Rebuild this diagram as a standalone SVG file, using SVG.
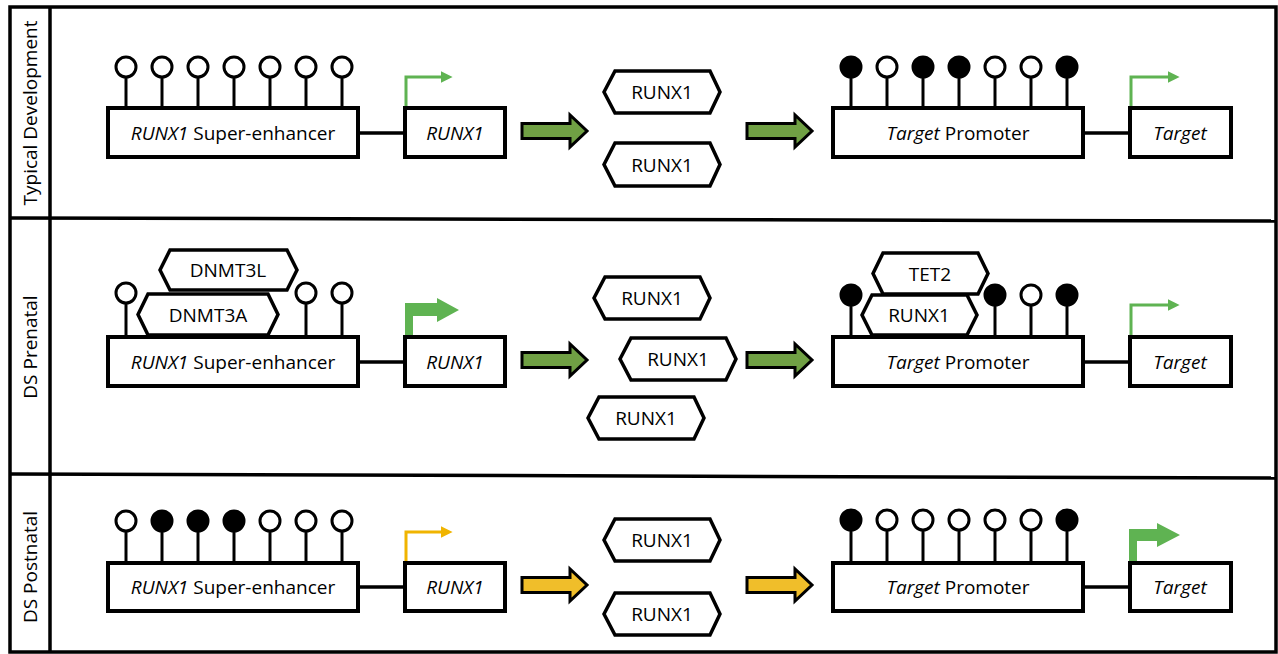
<svg xmlns="http://www.w3.org/2000/svg" width="1278" height="654" viewBox="0 0 1278 654">
<defs>
<style>
.frame{fill:none;stroke:#000;stroke-width:3.5}
.box{fill:#fff;stroke:#000;stroke-width:4}
.hex{fill:#fff;stroke:#000;stroke-width:3.5;stroke-linejoin:miter}
.link{stroke:#000;stroke-width:3.5}
.stem{stroke:#000;stroke-width:3}
.open{fill:#fff;stroke:#000;stroke-width:3}
.meth{fill:#000;stroke:#000;stroke-width:3}
.t{font-family:"Open Sans","Liberation Sans",sans-serif;font-size:19px;fill:#000;text-anchor:middle}
.i{font-style:italic}
.gblk{fill:#70a044;stroke:#000;stroke-width:3;stroke-linejoin:miter}
.yblk{fill:#f0be2a;stroke:#000;stroke-width:3;stroke-linejoin:miter}
.gthin{fill:none;stroke:#5fb352;stroke-width:3}
.ythin{fill:none;stroke:#f0b400;stroke-width:3}
</style>
<marker id="gh" viewBox="0 0 10 10" refX="2" refY="5" markerWidth="4" markerHeight="4" orient="auto" markerUnits="strokeWidth"><path d="M0,0 L10,5 L0,10 Z" fill="#5fb352"/></marker>
<marker id="yh" viewBox="0 0 10 10" refX="2" refY="5" markerWidth="4" markerHeight="4" orient="auto" markerUnits="strokeWidth"><path d="M0,0 L10,5 L0,10 Z" fill="#f0b400"/></marker>
</defs>
<rect width="1278" height="654" fill="#fff"/>

<g id="frame">
<rect class="frame" x="10" y="7" width="1266" height="645"/>
<line class="frame" x1="50" y1="7" x2="50" y2="652"/>
<line class="frame" x1="10" y1="218" x2="1276" y2="221"/>
<line class="frame" x1="10" y1="474" x2="1276" y2="478"/>
</g>

<g id="row-labels">
<text class="t" transform="translate(37,113) rotate(-90)">Typical Development</text>
<text class="t" transform="translate(37,347) rotate(-90)">DS Prenatal</text>
<text class="t" transform="translate(37,567) rotate(-90)">DS Postnatal</text>
</g>

<g id="connectors">
<line class="link" x1="358" y1="133" x2="405" y2="133"/>
<line class="link" x1="1083" y1="133" x2="1130" y2="133"/>
<line class="link" x1="358" y1="362" x2="405" y2="362"/>
<line class="link" x1="1083" y1="362" x2="1130" y2="362"/>
<line class="link" x1="358" y1="587" x2="405" y2="587"/>
<line class="link" x1="1083" y1="587" x2="1130" y2="587"/>
<path class="gblk" d="M522,123.5 H570 V115 L587,131 L570,147 V138.5 H522 Z"/>
<path class="gblk" d="M747,123.5 H795 V115 L812,131 L795,147 V138.5 H747 Z"/>
<path class="gblk" d="M522,352.5 H570 V344 L587,360 L570,376 V367.5 H522 Z"/>
<path class="gblk" d="M747,352.5 H795 V344 L812,360 L795,376 V367.5 H747 Z"/>
<path class="yblk" d="M522,577.5 H570 V569 L587,585 L570,601 V592.5 H522 Z"/>
<path class="yblk" d="M747,577.5 H795 V569 L812,585 L795,601 V592.5 H747 Z"/>
<path class="gthin" d="M406,106 V77 H443" marker-end="url(#gh)"/>
<path class="gthin" d="M1131,106 V77 H1170" marker-end="url(#gh)"/>
<path class="gthin" d="M1131,335 V305 H1170" marker-end="url(#gh)"/>
<path class="ythin" d="M406,561 V532 H443" marker-end="url(#yh)"/>
<path d="M405,337 V303 H437 V298 L459,310 L437,322 V316 H413 V337 Z" fill="#5fb352"/>
<path d="M1129,563 V529 H1157 V523 L1180,535 L1157,547 V541 H1137 V563 Z" fill="#5fb352"/>
</g>

<g id="p1-enhancer">
<line class="stem" x1="126" y1="78" x2="126" y2="108"/><circle class="open" cx="126" cy="67" r="10"/>
<line class="stem" x1="162" y1="78" x2="162" y2="108"/><circle class="open" cx="162" cy="67" r="10"/>
<line class="stem" x1="198" y1="78" x2="198" y2="108"/><circle class="open" cx="198" cy="67" r="10"/>
<line class="stem" x1="234" y1="78" x2="234" y2="108"/><circle class="open" cx="234" cy="67" r="10"/>
<line class="stem" x1="270" y1="78" x2="270" y2="108"/><circle class="open" cx="270" cy="67" r="10"/>
<line class="stem" x1="306" y1="78" x2="306" y2="108"/><circle class="open" cx="306" cy="67" r="10"/>
<line class="stem" x1="342" y1="78" x2="342" y2="108"/><circle class="open" cx="342" cy="67" r="10"/>
<rect class="box" x="108" y="108" width="250" height="49"/>
<text class="t" x="233" y="140"><tspan class="i">RUNX1</tspan> Super-enhancer</text>
</g>
<g id="p1-runx1">
<rect class="box" x="405" y="108" width="100" height="49"/>
<text class="t i" x="455" y="140">RUNX1</text>
</g>
<g id="p1-protein-a">
<polygon class="hex" points="604,92 615,71 710,71 720,92 710,113 615,113"/>
<text class="t" x="662" y="99">RUNX1</text>
</g>
<g id="p1-protein-b">
<polygon class="hex" points="604,164.5 615,143 710,143 720,164.5 710,186 615,186"/>
<text class="t" x="662" y="171.5">RUNX1</text>
</g>
<g id="p1-promoter">
<line class="stem" x1="851" y1="78" x2="851" y2="108"/><circle class="meth" cx="851" cy="67" r="10"/>
<line class="stem" x1="887" y1="78" x2="887" y2="108"/><circle class="open" cx="887" cy="67" r="10"/>
<line class="stem" x1="923" y1="78" x2="923" y2="108"/><circle class="meth" cx="923" cy="67" r="10"/>
<line class="stem" x1="959" y1="78" x2="959" y2="108"/><circle class="meth" cx="959" cy="67" r="10"/>
<line class="stem" x1="995" y1="78" x2="995" y2="108"/><circle class="open" cx="995" cy="67" r="10"/>
<line class="stem" x1="1031" y1="78" x2="1031" y2="108"/><circle class="open" cx="1031" cy="67" r="10"/>
<line class="stem" x1="1067" y1="78" x2="1067" y2="108"/><circle class="meth" cx="1067" cy="67" r="10"/>
<rect class="box" x="833" y="108" width="250" height="49"/>
<text class="t" x="958" y="140"><tspan class="i">Target</tspan> Promoter</text>
</g>
<g id="p1-target">
<rect class="box" x="1130" y="108" width="101" height="49"/>
<text class="t i" x="1180" y="140">Target</text>
</g>

<g id="p2-enhancer">
<line class="stem" x1="126" y1="304" x2="126" y2="337"/><circle class="open" cx="126" cy="293" r="10"/>
<line class="stem" x1="306" y1="304" x2="306" y2="337"/><circle class="open" cx="306" cy="293" r="10"/>
<line class="stem" x1="342" y1="304" x2="342" y2="337"/><circle class="open" cx="342" cy="293" r="10"/>
<rect class="box" x="108" y="337" width="250" height="49"/>
<text class="t" x="233" y="369"><tspan class="i">RUNX1</tspan> Super-enhancer</text>
</g>
<g id="p2-dnmt3l">
<polygon class="hex" points="160,270 170,250 287,250 297,270 287,290 170,290"/>
<text class="t" x="228" y="277">DNMT3L</text>
</g>
<g id="p2-dnmt3a">
<polygon class="hex" points="138,314.5 148,294 268,294 278,314.5 268,335 148,335"/>
<text class="t" x="208" y="321.5">DNMT3A</text>
</g>
<g id="p2-runx1">
<rect class="box" x="405" y="337" width="100" height="49"/>
<text class="t i" x="455" y="369">RUNX1</text>
</g>
<g id="p2-protein-a">
<polygon class="hex" points="594,298 605,277 700,277 710,298 700,319 605,319"/>
<text class="t" x="652" y="305">RUNX1</text>
</g>
<g id="p2-protein-b">
<polygon class="hex" points="620,359 631,338 726,338 736,359 726,380 631,380"/>
<text class="t" x="678" y="366">RUNX1</text>
</g>
<g id="p2-protein-c">
<polygon class="hex" points="588,418 599,397 694,397 704,418 694,439 599,439"/>
<text class="t" x="646" y="425">RUNX1</text>
</g>
<g id="p2-promoter">
<line class="stem" x1="851" y1="306" x2="851" y2="337"/><circle class="meth" cx="851" cy="295" r="10"/>
<line class="stem" x1="995" y1="306" x2="995" y2="337"/><circle class="meth" cx="995" cy="295" r="10"/>
<line class="stem" x1="1031" y1="306" x2="1031" y2="337"/><circle class="open" cx="1031" cy="295" r="10"/>
<line class="stem" x1="1067" y1="306" x2="1067" y2="337"/><circle class="meth" cx="1067" cy="295" r="10"/>
<rect class="box" x="833" y="337" width="250" height="49"/>
<text class="t" x="958" y="369"><tspan class="i">Target</tspan> Promoter</text>
</g>
<g id="p2-tet2">
<polygon class="hex" points="873,273.5 883,253 978,253 988,273.5 978,294 883,294"/>
<text class="t" x="930" y="280.5">TET2</text>
</g>
<g id="p2-runx1-bound">
<polygon class="hex" points="862,315 872,295 967,295 977,315 967,335 872,335"/>
<text class="t" x="919" y="322">RUNX1</text>
</g>
<g id="p2-target">
<rect class="box" x="1130" y="337" width="101" height="49"/>
<text class="t i" x="1180" y="369">Target</text>
</g>

<g id="p3-enhancer">
<line class="stem" x1="126" y1="532" x2="126" y2="563"/><circle class="open" cx="126" cy="521" r="10"/>
<line class="stem" x1="162" y1="532" x2="162" y2="563"/><circle class="meth" cx="162" cy="521" r="10"/>
<line class="stem" x1="198" y1="532" x2="198" y2="563"/><circle class="meth" cx="198" cy="521" r="10"/>
<line class="stem" x1="234" y1="532" x2="234" y2="563"/><circle class="meth" cx="234" cy="521" r="10"/>
<line class="stem" x1="270" y1="532" x2="270" y2="563"/><circle class="open" cx="270" cy="521" r="10"/>
<line class="stem" x1="306" y1="532" x2="306" y2="563"/><circle class="open" cx="306" cy="521" r="10"/>
<line class="stem" x1="342" y1="532" x2="342" y2="563"/><circle class="open" cx="342" cy="521" r="10"/>
<rect class="box" x="108" y="563" width="250" height="48"/>
<text class="t" x="233" y="594"><tspan class="i">RUNX1</tspan> Super-enhancer</text>
</g>
<g id="p3-runx1">
<rect class="box" x="405" y="563" width="100" height="48"/>
<text class="t i" x="455" y="594">RUNX1</text>
</g>
<g id="p3-protein-a">
<polygon class="hex" points="604,540 615,519 710,519 720,540 710,561 615,561"/>
<text class="t" x="662" y="547">RUNX1</text>
</g>
<g id="p3-protein-b">
<polygon class="hex" points="604,614 615,593 710,593 720,614 710,635 615,635"/>
<text class="t" x="662" y="621">RUNX1</text>
</g>
<g id="p3-promoter">
<line class="stem" x1="851" y1="531" x2="851" y2="563"/><circle class="meth" cx="851" cy="520" r="10"/>
<line class="stem" x1="887" y1="531" x2="887" y2="563"/><circle class="open" cx="887" cy="520" r="10"/>
<line class="stem" x1="923" y1="531" x2="923" y2="563"/><circle class="open" cx="923" cy="520" r="10"/>
<line class="stem" x1="959" y1="531" x2="959" y2="563"/><circle class="open" cx="959" cy="520" r="10"/>
<line class="stem" x1="995" y1="531" x2="995" y2="563"/><circle class="open" cx="995" cy="520" r="10"/>
<line class="stem" x1="1031" y1="531" x2="1031" y2="563"/><circle class="open" cx="1031" cy="520" r="10"/>
<line class="stem" x1="1067" y1="531" x2="1067" y2="563"/><circle class="meth" cx="1067" cy="520" r="10"/>
<rect class="box" x="833" y="563" width="250" height="48"/>
<text class="t" x="958" y="594"><tspan class="i">Target</tspan> Promoter</text>
</g>
<g id="p3-target">
<rect class="box" x="1130" y="563" width="101" height="48"/>
<text class="t i" x="1180" y="594">Target</text>
</g>
</svg>
